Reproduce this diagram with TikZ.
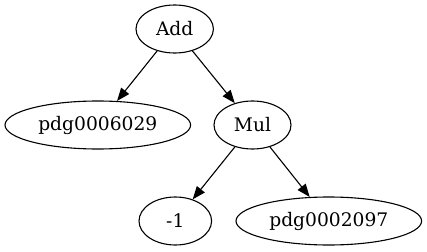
\documentclass[tikz,border=0pt]{standalone}
\usepackage{fontspec}
\setmainfont{DejaVu Serif}
\usetikzlibrary{shapes.geometric,arrows.meta}
\begin{document}
\begin{tikzpicture}[x=1pt,y=-1pt,
  gnode/.style={draw=black,ellipse,line width=1.1pt,inner sep=0pt,minimum height=48pt,font=\fontsize{18.67}{22}\selectfont},
  gedge/.style={draw=black,line width=1.1pt,-{Triangle[length=13pt,width=10pt]}}]
\useasboundingbox (0,0) rectangle (427,251);
\node[gnode,minimum width=77.4pt] (add) at (174.7,29) {Add};
\node[gnode,minimum width=185.6pt] (p1) at (97.8,125) {pdg0006029};
\node[gnode,minimum width=77pt] (mul) at (252.5,125) {Mul};
\node[gnode,minimum width=72.6pt] (m1) at (175.3,221) {-1};
\node[gnode,minimum width=185.6pt] (p2) at (328.8,221) {pdg0002097};
\draw[gedge] (add) -- (p1);
\draw[gedge] (add) -- (mul);
\draw[gedge] (mul) -- (m1);
\draw[gedge] (mul) -- (p2);
\end{tikzpicture}
\end{document}
